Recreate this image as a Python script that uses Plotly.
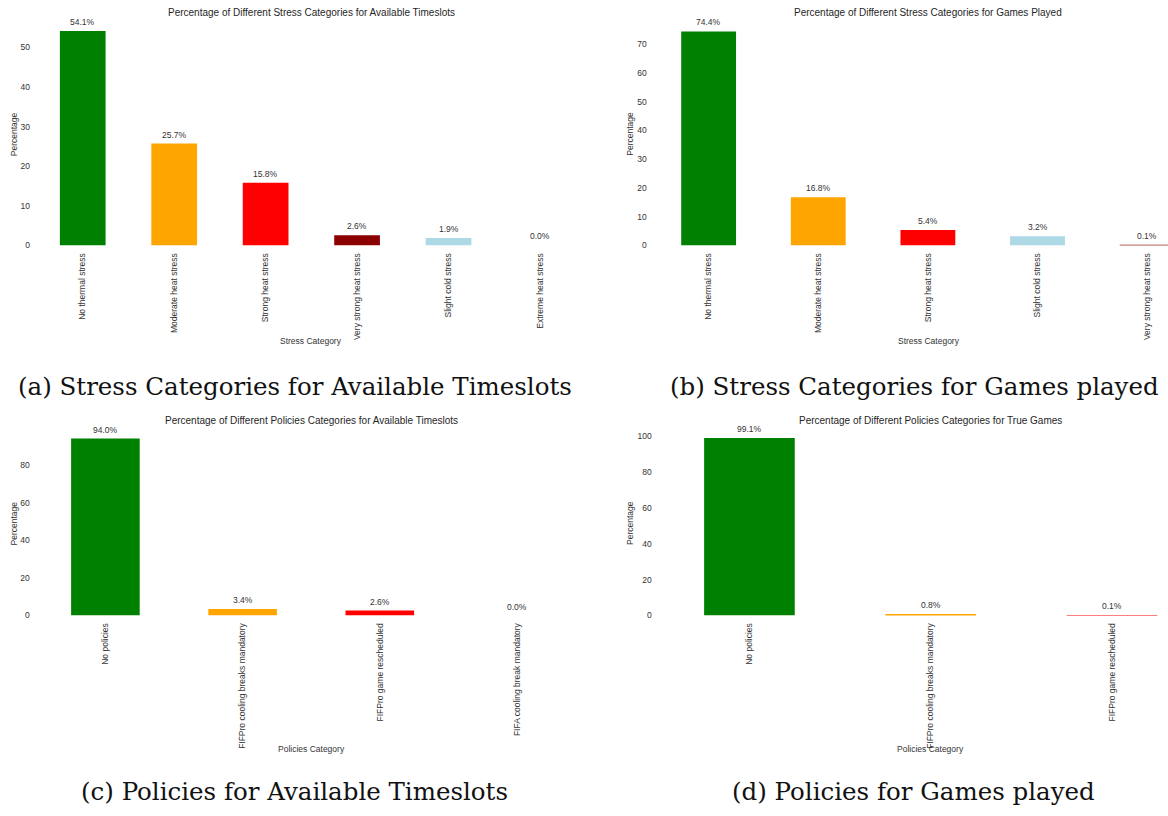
import plotly.graph_objects as go

W, H = 1168, 816

# ---- data -------------------------------------------------------------
stress_slot_cats = ["No thermal stress", "Moderate heat stress", "Strong heat stress",
                    "Very strong heat stress", "Slight cold stress", "Extreme heat stress"]
stress_slot_pct = [54.1, 25.7, 15.8, 2.6, 1.9, 0.0]

stress_game_cats = ["No thermal stress", "Moderate heat stress", "Strong heat stress",
                    "Slight cold stress", "Very strong heat stress"]
stress_game_pct = [74.4, 16.8, 5.4, 3.2, 0.1]

policy_slot_cats = ["No policies", "FIFPro cooling breaks mandatory",
                    "FIFPro game rescheduled", "FIFA cooling break mandatory"]
policy_slot_pct = [94.0, 3.4, 2.6, 0.0]

policy_game_cats = ["No policies", "FIFPro cooling breaks mandatory", "FIFPro game rescheduled"]
policy_game_pct = [99.1, 0.8, 0.1]

stress_colors = {
    "No thermal stress": "#008000",
    "Moderate heat stress": "#FFA500",
    "Strong heat stress": "#FF0000",
    "Very strong heat stress": "#8B0000",
    "Slight cold stress": "#ADD8E6",
    "Extreme heat stress": "#800080",
}
policy_colors = ["#008000", "#FFA500", "#FF0000", "#ADD8E6"]

TXT = "#333333"
SANS = "Liberation Sans, Arial, sans-serif"


def px(x):
    return x / W


def py(y):
    return 1 - y / H


fig = go.Figure()
annotations = []


def panel(idx, cats, vals, colors, xdom, xrange, ydom, dtick, title, title_xy,
          xlabel, xlabel_xy, ylabel_xy):
    xa = "x" if idx == 1 else f"x{idx}"
    ya = "y" if idx == 1 else f"y{idx}"
    fig.add_trace(go.Bar(
        x=cats, y=vals, marker=dict(color=colors, line=dict(width=0)),
        width=0.5, xaxis=xa, yaxis=ya, showlegend=False, hoverinfo="x+y",
    ))
    ymax = max(vals) * 1.05
    key = "" if idx == 1 else str(idx)
    fig.layout["xaxis" + key] = dict(
        domain=[px(xdom[0]), px(xdom[1])], range=xrange, anchor=ya,
        type="category", tickangle=-90, showgrid=False, zeroline=False,
        showline=False, ticks="", ticklabelstandoff=5,
        tickfont=dict(family=SANS, size=8.5, color=TXT),
    )
    fig.layout["yaxis" + key] = dict(
        domain=[py(ydom[0]), py(ydom[1])], range=[0, ymax], anchor=xa,
        dtick=dtick, showgrid=False, zeroline=False, showline=False, ticks="",
        ticklabelstandoff=6, tickfont=dict(family=SANS, size=8.5, color=TXT),
    )
    # value labels above bars
    for c, v in zip(cats, vals):
        annotations.append(dict(
            x=c, y=v, xref=xa, yref=ya, text=f"{v:.1f}%", showarrow=False,
            yanchor="middle", yshift=9, font=dict(family=SANS, size=8.5, color=TXT),
        ))
    annotations.append(dict(
        x=px(title_xy[0]), y=py(title_xy[1]), xref="paper", yref="paper",
        text=title, showarrow=False, xanchor="center", yanchor="middle",
        font=dict(family=SANS, size=10, color="#262626"),
    ))
    annotations.append(dict(
        x=px(xlabel_xy[0]), y=py(xlabel_xy[1]), xref="paper", yref="paper",
        text=xlabel, showarrow=False, xanchor="center", yanchor="middle",
        font=dict(family=SANS, size=8.5, color=TXT),
    ))
    annotations.append(dict(
        x=px(ylabel_xy[0]), y=py(ylabel_xy[1]), xref="paper", yref="paper",
        text="Percentage", showarrow=False, textangle=-90, xanchor="center",
        yanchor="middle", font=dict(family=SANS, size=8.5, color=TXT),
    ))


panel(1, stress_slot_cats, stress_slot_pct, [stress_colors[c] for c in stress_slot_cats],
      (37, 585.7), [-0.5, 5.5], (247, 20.4), 10,
      "Percentage of Different Stress Categories for Available Timeslots", (311, 12.7),
      "Stress Category", (311, 343), (14, 135))

panel(2, stress_game_cats, stress_game_pct, [stress_colors[c] for c in stress_game_cats],
      (653.8, 1168), [-0.5, 4.19], (247, 20.8), 10,
      "Percentage of Different Stress Categories for Games Played", (928, 12.7),
      "Stress Category", (928.5, 343), (630.5, 135))

panel(3, policy_slot_cats, policy_slot_pct, policy_colors[:len(policy_slot_cats)],
      (36.8, 585.6), [-0.5, 3.5], (619.3, 432.3), 20,
      "Percentage of Different Policies Categories for Available Timeslots", (311, 423.3),
      "Policies Category", (311, 753.3), (14, 526.7))

panel(4, policy_game_cats, policy_game_pct, policy_colors[:len(policy_game_cats)],
      (658.8, 1168), [-0.5, 2.309], (619.3, 431.7), 20,
      "Percentage of Different Policies Categories for True Games", (930.7, 423.3),
      "Policies Category", (930.3, 753.3), (630.5, 526.7))

# sub-figure captions
SERIF = "DejaVu Serif, serif"
captions = [
    ("(a) Stress Categories for Available Timeslots", 16, 389),
    ("(b) Stress Categories for Games played", 668, 389),
    ("(c) Policies for Available Timeslots", 79, 796),
    ("(d) Policies for Games played", 730, 796),
]
for text, cx, cy in captions:
    annotations.append(dict(
        x=px(cx), y=py(cy), xref="paper", yref="paper", text=text, showarrow=False,
        xanchor="left", yanchor="middle", font=dict(family=SERIF, size=24.5, color="#111111"),
    ))

fig.update_layout(
    width=W, height=H, margin=dict(l=0, r=0, t=0, b=0),
    paper_bgcolor="white", plot_bgcolor="white",
    annotations=annotations, bargap=0.5,
)

fig.write_html("out.html")
